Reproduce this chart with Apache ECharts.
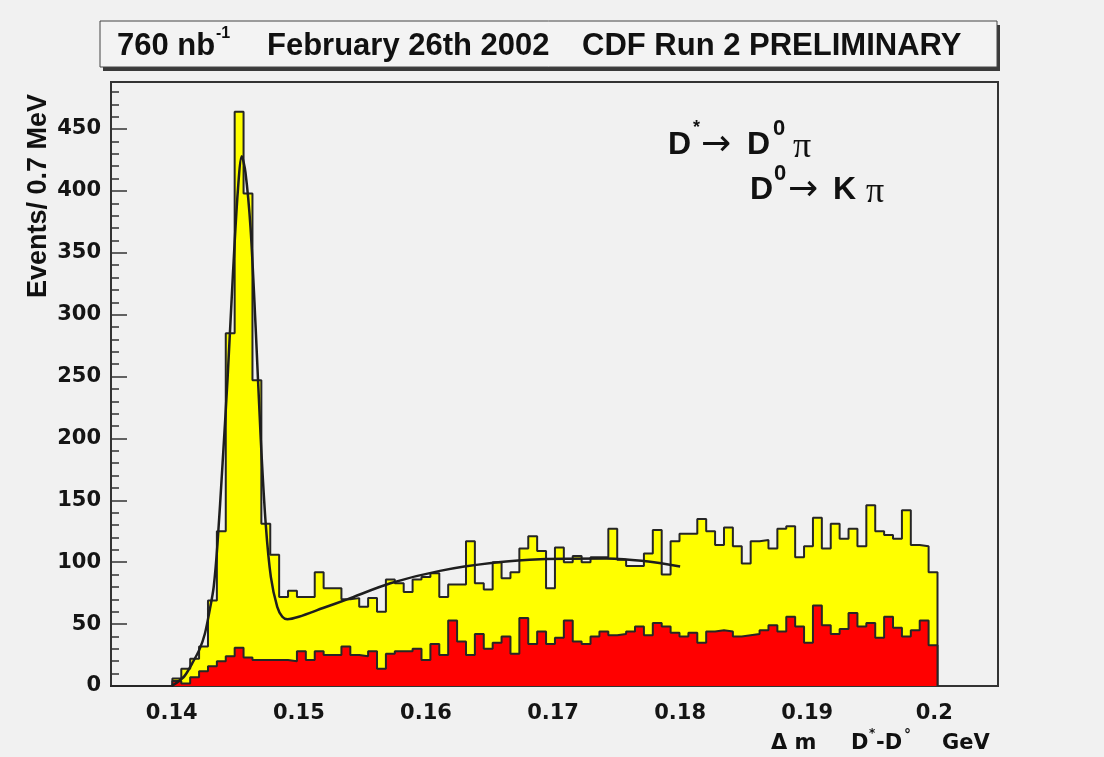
<!DOCTYPE html>
<html>
<head>
<meta charset="utf-8">
<script src="https://cdn.jsdelivr.net/npm/echarts@6/dist/echarts.min.js"></script>
<style>
  html, body { margin: 0; padding: 0; background: #f1f1f1; }
  #chart { width: 1104px; height: 757px; }
</style>
</head>
<body>
<div id="chart"></div>
<script>
// Histogram binning: 0.7 MeV bins of delta-m (GeV)
const binStart = 0.13515;
const binWidth = 0.0007;

// All D* candidates (yellow) per bin
const allCounts = [
  0, 0, 0, 0, 0, 0, 0, 6, 14, 22,
  32, 69, 125, 285, 464, 398, 247, 131, 106, 72,
  77, 72, 72, 92, 79, 79, 70, 71, 64, 71,
  60, 86, 83, 76, 86, 88, 91, 72, 82, 82,
  117, 83, 78, 100, 87, 92, 111, 121, 109, 79,
  112, 100, 105, 100, 104, 104, 127, 102, 97, 97,
  107, 126, 90, 117, 123, 123, 135, 125, 114, 128,
  113, 99, 117, 118, 111, 127, 129, 104, 113, 136,
  111, 131, 119, 127, 113, 146, 125, 122, 119, 142,
  114, 113, 92
];

// Wrong-sign background (red) per bin
const bkgCounts = [
  0, 0, 0, 0, 0, 0, 0, 4, 2, 7,
  12, 16, 20, 24, 31, 23, 21, 21, 21, 21,
  20, 28, 21, 28, 25, 25, 32, 25, 24, 28,
  14, 26, 28, 28, 30, 21, 34, 25, 53, 36,
  25, 42, 30, 35, 40, 26, 55, 34, 44, 34,
  39, 53, 36, 34, 40, 44, 41, 42, 44, 48,
  41, 51, 48, 43, 40, 43, 35, 44, 45, 44,
  40, 41, 42, 45, 49, 44, 56, 48, 35, 65,
  49, 42, 46, 59, 48, 51, 39, 56, 47, 40,
  45, 53, 33
];

// Fitted signal + background curve
const fitX = [
  0.1400, 0.1403, 0.1410, 0.1417, 0.1422, 0.1426, 0.1430, 0.1433, 0.1436, 0.1440,
  0.1444, 0.1448, 0.1452, 0.14551, 0.1458, 0.1462, 0.1466, 0.1470, 0.1474, 0.1478,
  0.1483, 0.1487, 0.1491, 0.1500, 0.1519, 0.1538, 0.1572, 0.1611, 0.1653, 0.1690,
  0.1742, 0.1775, 0.1800
];
const fitY = [
  0, 2, 8, 20, 30, 42, 62, 80, 115, 180,
  250, 330, 400, 428, 415, 370, 290, 200, 130, 88,
  64, 56, 54, 56, 63, 70, 83, 93, 99.5, 102.5,
  103, 100.5, 96.5
];

const xTickValues = [0.14, 0.15, 0.16, 0.17, 0.18, 0.19, 0.2];
const yTickValues = [0, 50, 100, 150, 200, 250, 300, 350, 400, 450];
const yMinorValues = [];
for (let v = 10; v <= 480; v += 10) { if (v % 50 !== 0) yMinorValues.push(v); }

const xMin = 0.13522, xMax = 0.20501;
const yMax = 488;

function histPoints(counts) {
  const pts = counts.map((c, i) => [binStart + i * binWidth, c]);
  pts.push([binStart + counts.length * binWidth, 0]);
  return pts;
}

const labelFont = { fontFamily: 'DejaVu Sans', fontWeight: 'bold', fontSize: 21, color: '#151515' };
const titleFont = '"Liberation Sans", Arial, sans-serif';

function txt(text, x, y, size, opts) {
  opts = opts || {};
  return {
    type: 'text', x: x, y: y, z: 100,
    rotation: opts.rotation || 0,
    style: {
      text: text,
      fontFamily: opts.family || titleFont,
      fontWeight: opts.weight || 'bold',
      fontSize: size,
      fill: '#111',
      textAlign: opts.align || 'left',
      textVerticalAlign: 'middle'
    }
  };
}

const chart = echarts.init(document.getElementById('chart'), null, { renderer: 'canvas' });

chart.setOption({
  animation: false,
  backgroundColor: '#f1f1f1',
  grid: {
    left: 111, right: 106, top: 82, bottom: 71,
    show: true, borderColor: '#333', borderWidth: 2, backgroundColor: 'transparent'
  },
  xAxis: {
    type: 'value', min: xMin, max: xMax,
    axisLine: { show: false },
    axisTick: { show: false },
    splitLine: { show: false },
    axisLabel: Object.assign({
      customValues: xTickValues,
      margin: 17,
      formatter: v => String(+v.toFixed(3))
    }, labelFont)
  },
  yAxis: [
    {
      type: 'value', min: 0, max: yMax,
      axisLine: { show: false },
      splitLine: { show: false },
      axisTick: { show: true, inside: true, length: 16, customValues: yTickValues,
                  lineStyle: { color: '#333', width: 1.5 } },
      axisLabel: Object.assign({ customValues: yTickValues, margin: 10 }, labelFont)
    },
    {
      type: 'value', min: 0, max: yMax, position: 'left',
      axisLine: { show: false },
      splitLine: { show: false },
      axisLabel: { show: false },
      axisTick: { show: true, inside: true, length: 8, customValues: yMinorValues,
                  lineStyle: { color: '#333', width: 1.5 } }
    }
  ],
  series: [
    {
      name: 'all', type: 'line', step: 'end', data: histPoints(allCounts),
      showSymbol: false, z: 2,
      lineStyle: { color: '#262626', width: 2 },
      areaStyle: { color: '#ffff00', opacity: 1 }
    },
    {
      name: 'background', type: 'line', step: 'end', data: histPoints(bkgCounts),
      showSymbol: false, z: 3,
      lineStyle: { color: '#262626', width: 2 },
      areaStyle: { color: '#ff0000', opacity: 1 }
    },
    {
      name: 'fit', type: 'line', smooth: 0.3,
      data: fitX.map((x, i) => [x, fitY[i]]),
      showSymbol: false, z: 4,
      lineStyle: { color: '#1e1e1e', width: 2.5 }
    }
  ],
  graphic: [
    // title box with drop shadow
    { type: 'rect', z: 90, shape: { x: 103, y: 25, width: 897, height: 46 }, style: { fill: '#3a3a3a' } },
    { type: 'rect', z: 91, shape: { x: 100, y: 21, width: 897, height: 46 },
      style: { fill: '#f3f3f3', stroke: '#444', lineWidth: 1 } },
    txt('760 nb', 117, 46, 31),
    txt('-1', 216, 34, 16),
    txt('February 26th 2002', 267, 46, 31),
    txt('CDF Run 2 PRELIMINARY', 582, 46, 31),

    // decay chain annotation
    txt('D', 668, 145, 32),
    txt('*', 693, 128, 18),
    txt('\u2192', 701, 146, 36, { family: 'DejaVu Sans', weight: 'normal' }),
    txt('D', 747, 145, 32),
    txt('0', 773, 129, 22),
    txt('\u03c0', 793, 148, 36, { family: '"Liberation Serif", serif', weight: 'normal' }),
    txt('D', 750, 190, 32),
    txt('0', 774, 174, 22),
    txt('\u2192', 788, 191, 36, { family: 'DejaVu Sans', weight: 'normal' }),
    txt('K', 833, 190, 32),
    txt('\u03c0', 866, 193, 36, { family: '"Liberation Serif", serif', weight: 'normal' }),

    // axis titles
    txt('Events/ 0.7 MeV', 39, 94, 27, { rotation: Math.PI / 2, align: 'right' }),
    txt('\u0394 m', 771, 744, 21, { family: 'DejaVu Sans' }),
    txt('D', 851, 744, 21, { family: 'DejaVu Sans' }),
    txt('*', 869, 734, 12, { family: 'DejaVu Sans' }),
    txt('-D', 876, 744, 21, { family: 'DejaVu Sans' }),
    txt('\u00b0', 904, 735, 14, { family: 'DejaVu Sans' }),
    txt('GeV', 942, 744, 21, { family: 'DejaVu Sans' })
  ]
});
</script>
</body>
</html>
